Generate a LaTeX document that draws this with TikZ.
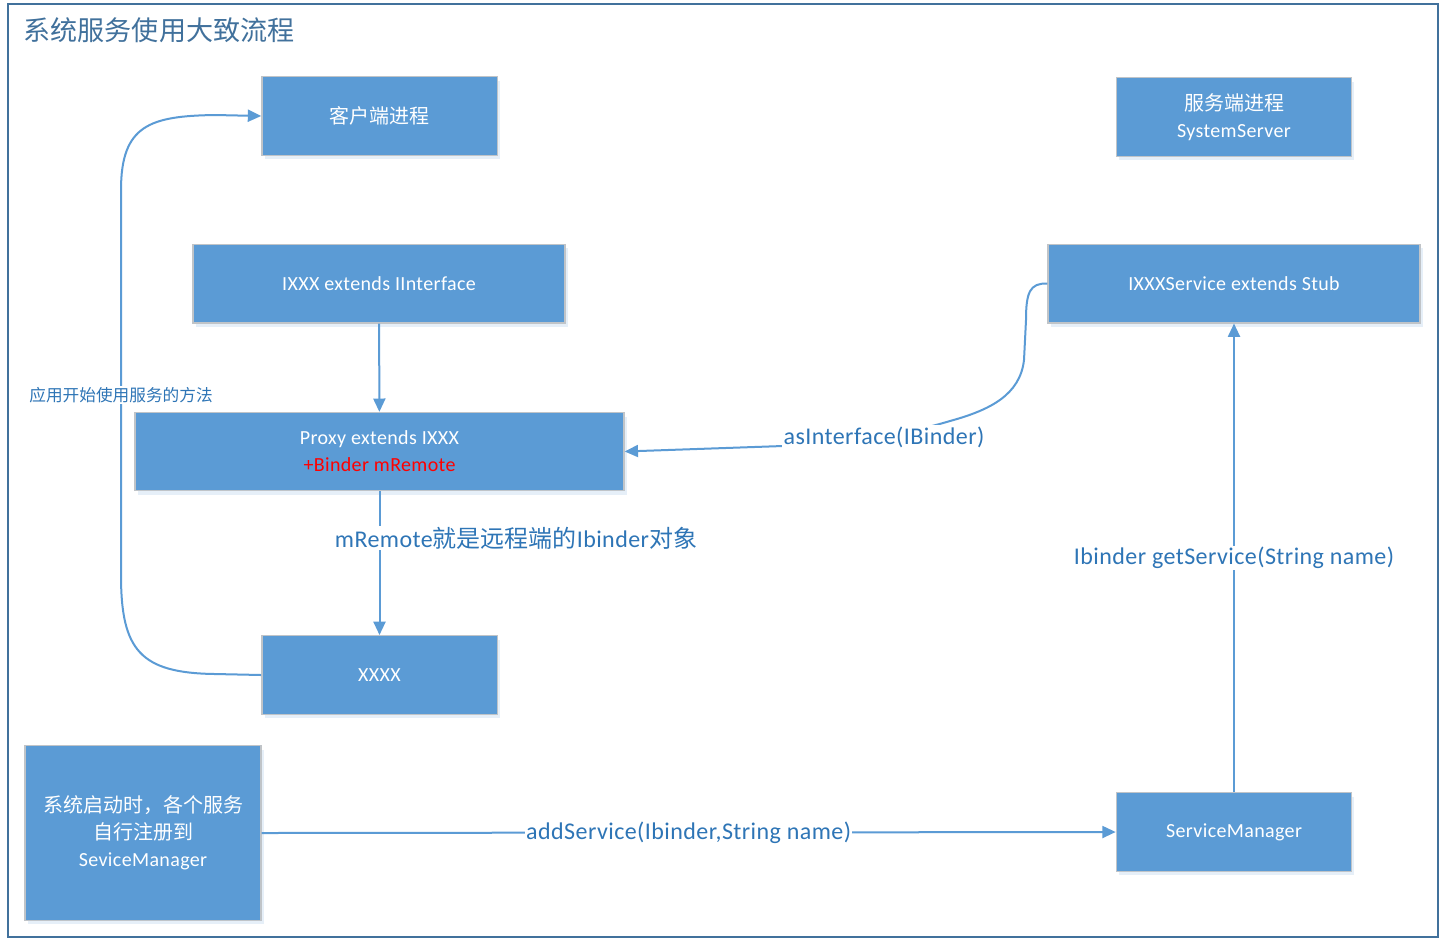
\documentclass[tikz,border=0pt]{standalone}
\usepackage{fontspec}
\setmainfont{Carlito}[LetterSpace=1.8]
\newfontfamily\cjk{Noto Sans CJK SC}
\usetikzlibrary{positioning, arrows.meta, shadows}
\definecolor{boxblue}{HTML}{5B9BD5}
\definecolor{boxedge}{HTML}{C0C4C8}
\definecolor{frameblue}{HTML}{41719C}
\definecolor{labelblue}{HTML}{2E75B6}
\newcommand{\zh}[1]{{\cjk #1}}
\tikzset{
  procbox/.style={draw=boxedge, line width=1pt, fill=boxblue, text=white,
    align=center, inner sep=2pt, font=\fontsize{15}{20.3}\selectfont,
    drop shadow={shadow xshift=2pt, shadow yshift=-3pt, fill=boxblue!30, opacity=0.5}},
  smallbox/.style={procbox, minimum width=176.5pt, minimum height=59pt},
  widebox/.style={procbox, minimum width=279pt, minimum height=59pt},
  link/.style={draw=boxblue, line width=1.5pt, -{Triangle[length=10pt, width=9pt]}},
  linklabel/.style={fill=white, text=labelblue, inner sep=1pt,
    font=\fontsize{18}{22}\selectfont},
}
\begin{document}
\begin{tikzpicture}[x=0.75pt, y=-0.75pt]
        \useasboundingbox (0,0) rectangle (1448,951);
        % outer frame and title
        \draw[frameblue, line width=1.5pt, fill=white] (8,4) rectangle (1438,937);
        \node[anchor=west, text=frameblue, font=\fontsize{20.3}{24}\selectfont] (title) at (19,30) {\zh{系统服务使用大致流程}};

        % client side
        \node[smallbox] (client) at (379.5,116) {\zh{客户端进程}};
        \node[widebox] (ixxx) at (379,283.5) {IXXX extends IInterface};
        \node[procbox, minimum width=366.75pt, minimum height=58.5pt] (proxy) at (379.5,451.5)
            {Proxy extends IXXX\\ \textcolor{red}{+Binder mRemote}};
        \node[smallbox] (xxxx) at (379.5,675) {XXXX};
        \node[procbox, minimum width=177pt, minimum height=131pt] (startup) at (143,833)
            {\zh{系统启动时，各个服务}\\ \zh{自行注册到}\\ SeviceManager};

        % server side
        \node[smallbox] (server) at (1234,117) {\zh{服务端进程}\\ SystemServer};
        \node[widebox] (stub) at (1234,283.5) {IXXXService extends Stub};
        \node[smallbox] (svcmgr) at (1234,832) {ServiceManager};

        % connectors
        \draw[link] (ixxx) -- (proxy);
        \draw[link] (proxy) -- (xxxx);
        \node[linklabel] (remotelbl) at (516,538) {mRemote\zh{就是远程端的}Ibinder\zh{对象}};

        \draw[link] (xxxx.west) -- (215,674) .. controls (140,673) and (121,650) .. (121,575)
            -- (121,190) .. controls (121,125) and (150,116) .. (215,115) -- (client.west);
        \node[linklabel, font=\fontsize{12.5}{15}\selectfont] (uselbl) at (121,395) {\zh{应用开始使用服务的方法}};

        \draw[link] (stub.west) .. controls (1030,283) and (1026,292) .. (1026,320) -- (1024,360)
            .. controls (1020,395) and (990,410) .. (950,421)
            .. controls (900,436) and (840,444) .. (783,446) -- (proxy.east);
        \node[linklabel] (aslbl) at (884,437) {asInterface(IBinder)};

        \draw[link] (svcmgr) -- node[linklabel] (getlbl) {Ibinder getService(String name)} (stub);
        \draw[link] (startup.east) -- node[linklabel] (addlbl) {addService(Ibinder,String name)} (svcmgr.west);
    \end{tikzpicture}
\end{document}
